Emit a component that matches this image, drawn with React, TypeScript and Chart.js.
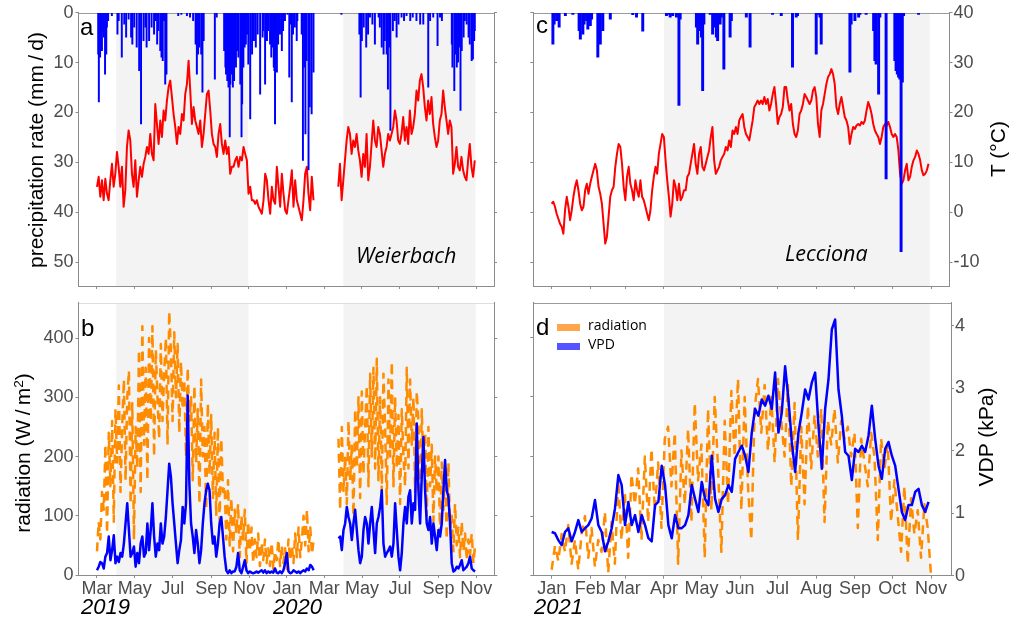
import React, { useEffect, useRef } from 'react';
import { Chart, registerables } from 'chart.js';

Chart.register(...registerables);

const SANS = '"Liberation Sans", Arial, sans-serif';
const OPEN = '"Open Sans", sans-serif';

// ---------------- DATA ----------------
// Weierbach: x in days since 1 Mar 2019
const wbMonthTicks = [0, 61, 122, 184, 245, 306, 366, 427, 488, 550, 611];
const wbMonthLabels = ['Mar', 'May', 'Jul', 'Sep', 'Nov', 'Jan', 'Mar', 'May', 'Jul', 'Sep', 'Nov'];
const wbGrowing = [[31, 244], [397, 610]];
const wbSpan1: [number, number] = [0, 349];
const wbSpan2: [number, number] = [389, 609];

// air temperature (°C)
const wbTemp1 = [5.1, 7.1, 3.1, 6.4, 2.4, 6.7, 3.7, 2.4, 6.4, 9.7,
  5.1, 7.7, 12.1, 9.1, 5.1, 9.1, 1.1, 4.4, 13.1, 16.4,
  14.4, 7.7, 5.1, 10.4, 3.1, 6.4, 9.1, 7.1, 9.7, 11.1,
  13.1, 11.7, 15.7, 11.7, 10.4, 21.7, 17.7, 13.7, 18.4, 15.1,
  20.4, 18.4, 22.4, 25.1, 26.4, 23.1, 19.7, 17.1, 13.7, 17.1,
  15.7, 19.7, 18.4, 23.7, 25.7, 30.4, 24.4, 17.7, 21.1, 18.4,
  17.1, 15.7, 18.4, 13.1, 15.7, 19.7, 23.7, 24.4, 20.4, 15.7,
  13.7, 13.1, 11.1, 15.7, 17.7, 13.7, 11.7, 14.4, 11.7, 13.1,
  7.7, 9.1, 9.1, 10.4, 11.1, 9.1, 11.1, 10.4, 13.1, 11.7,
  10.4, 3.7, 5.1, 2.4, 2.4, 1.7, 2.4, 1.1, 0.4, -0.3,
  2.4, 7.7, 6.4, 2.4, -0.3, 5.1, 2.4, 1.7, 9.1, 5.1,
  1.1, 7.7, 3.7, 0.4, -0.3, 2.4, 5.1, 8.4, 1.1, 6.4,
  2.4, 1.1, -0.3, -1.6, 2.4, 7.7, 9.1, 3.7, 0.4, 7.1,
  2.4];
const wbTemp2 = [5.1, 9.7, 2.4, 6.4, 10.4, 14.4, 17.1, 15.7, 11.7, 14.4,
  13.1, 15.7, 12.4, 10.4, 7.1, 11.7, 9.1, 15.7, 6.4, 9.1,
  13.7, 18.4, 14.4, 13.1, 17.1, 15.7, 12.4, 9.1, 11.7, 13.1,
  15.7, 14.4, 15.7, 17.1, 20.4, 18.4, 14.4, 13.7, 15.7, 19.1,
  14.4, 17.1, 13.7, 20.4, 15.7, 17.1, 19.7, 24.4, 22.4, 26.4,
  27.7, 25.1, 21.1, 18.4, 22.4, 19.7, 23.1, 17.7, 15.1, 13.1,
  14.4, 18.4, 19.7, 24.4, 21.1, 18.4, 15.7, 18.4, 17.1, 7.7,
  9.7, 13.1, 9.1, 8.4, 11.1, 8.4, 7.1, 6.4, 10.4, 13.7,
  9.1, 7.1, 10.4];

// daily precipitation (mm/d)
const wbRainDay = [2, 3, 5, 6, 8, 10, 11, 13, 15, 16, 18, 24, 33, 35, 40, 44, 47, 51, 55, 57, 60, 64, 68, 71, 75, 78, 80, 84, 88, 92, 95, 97, 99, 102, 104, 106, 108, 110, 112,
  131, 136, 145, 150, 155, 159, 161, 163, 165, 168, 170, 172, 190, 193, 205, 207, 208, 210, 212, 214, 215, 217, 219, 221, 222, 224, 226, 228, 231, 233, 234, 236, 238, 240, 242, 244, 247, 250, 253, 256, 259, 263, 267, 268, 271, 274, 276, 279, 281, 283, 285, 286, 287, 290, 292, 295, 298, 300, 303, 307, 310, 312, 314, 316, 319, 322, 323, 330, 332, 334, 336, 338, 341, 343, 346, 349,
  394, 423, 425, 427, 430, 434, 437, 440, 444, 448, 454, 456, 459, 462, 464, 467, 469, 471, 473, 477, 480, 483, 486, 491, 495, 499, 505, 509, 515, 521, 526, 534, 537, 542, 549, 553, 556, 572, 573, 576, 578, 580, 582, 584, 586, 588, 591, 593, 596, 599, 601, 604, 606, 608, 609];
const wbRainMm = [8.3, 17.9, 8.9, 5.6, 7.6, 3.6, 4.9, 12.3, 8.3, 2.9, 1.6, 0.6, 4.3, 1.6, 8.9, 2.3, 4.9, 1.3, 4.9, 6.3, 2.9, 6.9, 11.6, 22.3, 5.6, 2.9, 6.9, 5.6, 2.9, 4.3, 1.6, 6.3, 3.6, 7.6, 8.9, 9.6, 1.6, 14.3, 12.3,
  0.6, 0.3, 0.6, 0.9, 1.6, 6.3, 12.3, 8.3, 6.9, 8.3, 15.9, 5.6, 13.3, 0.9, 7.6, 10.9, 12.3, 13.6, 14.9, 24.9, 14.3, 12.3, 14.9, 13.6, 9.6, 10.9, 7.6, 8.9, 14.3, 24.9, 18.3, 10.9, 6.9, 6.3, 4.3, 10.3, 21.3, 8.3, 5.6, 6.9, 4.3, 16.3, 4.9, 3.6, 14.3, 5.6, 3.6, 6.3, 8.9, 6.9, 10.9, 11.6, 22.3, 11.9, 6.3, 4.3, 7.6, 3.6, 1.6, 0.3, 12.9, 2.3, 17.9, 4.3, 2.9, 5.6, 1.6, 4.3, 29.6, 10.9, 24.3, 9.6, 31.5, 18.9, 20.3, 11.9,
  0.3, 4.3, 16.9, 5.6, 2.9, 6.9, 4.3, 0.9, 2.3, 6.3, 0.9, 2.9, 6.9, 8.3, 5.6, 8.3, 15.3, 6.9, 23.6, 3.6, 1.6, 4.9, 2.3, 0.9, 1.6, 0.6, 1.6, 0.9, 1.6, 2.3, 2.3, 14.9, 1.6, 0.9, 6.6, 0.9, 1.6, 6.3, 10.9, 15.6, 8.3, 10.9, 9.9, 6.9, 19.6, 7.6, 4.9, 1.6, 2.3, 4.9, 6.3, 9.6, 9.3, 5.6, 3.6];

// radiation (W/m2)
const wbRad1 = [40, 90, 60, 140, 110, 220, 70, 240, 150, 260, 90, 280, 190, 320, 140, 250, 330, 160, 300, 345,
  120, 290, 60, 250, 180, 380, 140, 420, 220, 350, 160, 400, 260, 420, 200, 380, 300, 230, 390, 260,
  340, 400, 220, 445, 380, 260, 410, 300, 390, 240, 360, 280, 330, 200, 350, 260, 300, 160, 320, 190,
  280, 120, 330, 200, 250, 110, 290, 170, 270, 130, 240, 100, 250, 90, 230, 140, 150, 60, 160, 50,
  130, 40, 110, 70, 120, 30, 100, 60, 110, 20, 90, 40, 80, 20, 60, 30, 70, 15, 55, 25,
  60, 20, 45, 15, 55, 10, 40, 25, 60, 15, 50, 20, 45, 10, 60, 25, 50, 20, 70, 30,
  80, 30, 60, 100, 50, 110, 40, 80, 35, 60];
const wbRad2 = [230, 110, 250, 140, 200, 120, 260, 160, 220, 100, 280, 180, 300, 130, 310, 170, 250, 320, 150, 340,
  200, 350, 180, 365, 160, 300, 140, 340, 250, 120, 330, 200, 360, 150, 300, 180, 270, 120, 280, 200,
  150, 350, 180, 330, 220, 300, 140, 310, 260, 120, 280, 180, 240, 100, 250, 150, 220, 90, 200, 140,
  200, 70, 190, 110, 180, 60, 190, 80, 100, 40, 120, 50, 80, 30, 90, 40, 70, 25, 60, 35,
  70, 20, 50];

// vapour pressure deficit (kPa)
const wbVpd1 = [0.08, 0.14, 0.22, 0.2, 0.11, 0.31, 0.37, 0.65, 0.25, 0.42,
  0.67, 0.2, 0.31, 0.22, 0.37, 0.31, 0.53, 0.87, 1.21, 0.76,
  0.31, 0.37, 0.48, 0.14, 0.37, 0.2, 0.53, 0.65, 0.31, 0.37,
  0.87, 0.42, 0.76, 1.21, 0.65, 0.31, 0.53, 0.42, 0.87, 0.53,
  0.65, 0.98, 1.43, 1.88, 1.66, 1.21, 0.87, 0.53, 0.2, 0.42,
  0.59, 1.15, 0.87, 1.21, 3.03, 1.54, 0.87, 0.65, 0.37, 0.76,
  0.53, 0.2, 0.42, 0.87, 1.21, 1.43, 1.54, 1.43, 0.87, 0.53,
  0.65, 0.31, 0.53, 0.87, 0.98, 0.65, 0.31, 0.08, 0.03, 0.08,
  0.03, 0.06, 0.06, 0.14, 0.37, 0.08, 0.03, 0.14, 0.25, 0.08,
  0.03, 0.06, 0.04, 0.03, 0.04, 0.06, 0.04, 0.06, 0.08, 0.04,
  0.08, 0.03, 0.06, 0.04, 0.06, 0.04, 0.11, 0.04, 0.03, 0.06,
  0.03, 0.08, 0.2, 0.37, 0.06, 0.03, 0.04, 0.08, 0.06, 0.04,
  0.06, 0.03, 0.06, 0.08, 0.06, 0.11, 0.08, 0.17, 0.14, 0.08];
const wbVpd2 = [0.62, 0.65, 0.42, 0.76, 0.87, 1.15, 0.98, 0.87, 0.59, 0.87,
  1.1, 0.76, 0.42, 0.2, 0.31, 0.76, 0.98, 0.87, 0.53, 0.87,
  1.15, 0.76, 0.37, 0.87, 0.98, 1.15, 1.43, 0.53, 0.31, 0.37,
  0.42, 0.48, 0.31, 0.53, 1.21, 0.76, 0.31, 0.08, 0.37, 0.87,
  1.15, 0.87, 1.32, 1.43, 0.87, 1.21, 1.1, 2.56, 1.43, 0.87,
  1.66, 2.33, 1.43, 0.87, 0.76, 0.98, 0.53, 0.87, 0.65, 0.42,
  0.76, 0.65, 0.87, 1.43, 1.94, 1.43, 1.32, 0.87, 0.2, 0.06,
  0.08, 0.14, 0.11, 0.17, 0.25, 0.08, 0.11, 0.14, 0.2, 0.31,
  0.11, 0.08, 0.06];

// Lecciona: x in days since 1 Jan 2021
const lcMonthTicks = [0, 31, 59, 90, 120, 151, 181, 212, 243, 273, 304];
const lcMonthLabels = ['Jan', 'Feb', 'Mar', 'Apr', 'May', 'Jun', 'Jul', 'Aug', 'Sep', 'Oct', 'Nov'];
const lcGrowing = [[90, 303]];
const lcSpanT: [number, number] = [0, 302];
const lcSpanRad: [number, number] = [0, 304];
const lcSpanVpd: [number, number] = [0, 302];

const lcTemp = [1.7, 2.1, 1.1, -0.3, -1.3, -2.3, -2.9, -4.3, 0.4, 3.1,
  1.1, -1.6, 0.4, 3.1, 5.1, 6.4, 4.4, 1.7, 0.4, 1.1,
  4.4, 5.7, 3.7, 5.7, 7.1, 8.4, 9.7, 8.4, 5.1, 3.7,
  1.7, -2.3, -6.3, -4.9, -0.9, 3.1, 4.4, 5.1, 9.1, 11.7,
  13.7, 13.1, 9.7, 5.1, 2.4, 7.1, 9.1, 5.7, 4.4, 2.4,
  6.4, 4.4, 3.1, 6.4, 3.1, 2.4, 1.1, -0.3, -1.6, 0.4,
  4.4, 7.1, 9.1, 7.7, 11.7, 13.7, 15.7, 15.1, 10.4, 6.4,
  3.1, -0.9, 1.7, 6.4, 5.1, 2.4, 5.7, 2.4, 3.1, 4.4,
  4.4, 7.1, 7.7, 9.7, 11.7, 13.7, 9.7, 7.7, 11.7, 13.1,
  9.1, 8.4, 9.7, 11.1, 12.4, 15.1, 17.1, 10.4, 7.7, 8.4,
  9.1, 10.4, 11.1, 11.7, 13.1, 12.4, 14.4, 13.1, 16.4, 15.7,
  17.1, 15.7, 18.4, 19.1, 19.7, 17.1, 15.7, 15.1, 14.4, 16.4,
  18.4, 21.1, 21.7, 22.4, 21.7, 22.4, 21.7, 23.1, 21.7, 22.7,
  20.4, 21.7, 23.7, 25.1, 21.7, 17.7, 19.1, 19.7, 21.1, 25.1,
  25.1, 22.4, 20.4, 21.7, 17.7, 15.7, 15.1, 16.4, 19.7, 20.4,
  21.7, 23.7, 23.1, 22.4, 21.7, 22.4, 24.4, 25.1, 23.1, 17.7,
  15.1, 20.4, 21.7, 23.7, 25.7, 27.1, 27.7, 28.7, 27.7, 25.7,
  21.1, 19.7, 21.7, 23.1, 21.1, 19.1, 18.4, 17.1, 13.7, 15.7,
  17.1, 16.7, 17.4, 17.7, 17.4, 18.1, 17.7, 18.4, 20.4, 22.1,
  21.1, 19.7, 17.7, 16.4, 15.7, 15.1, 13.7, 15.1, 17.1, 17.7,
  17.4, 18.1, 17.1, 15.7, 15.1, 15.7, 15.1, 12.4, 7.7, 5.7,
  6.4, 8.4, 9.7, 6.4, 7.1, 9.1, 10.4, 11.1, 12.4, 11.7,
  10.4, 8.4, 7.4, 7.7, 8.4, 9.7];

const lcRainDay = [1, 2, 4, 6, 11, 17, 22, 23, 25, 26, 28, 29, 31, 32, 37, 38, 39, 41, 47, 65, 68, 73, 92, 93, 95, 97, 100, 102, 103,
  116, 117, 119, 120, 121, 122, 127, 129, 131, 132, 133, 135, 136, 138, 143, 144, 156, 159, 177, 184, 193, 196, 197,
  212, 214, 215, 216, 239, 240, 243, 246, 247, 252, 258, 259, 260, 262, 263, 268, 275, 276, 277, 278, 279, 280, 281, 282, 294];
const lcRainMm = [6.3, 2.3, 1.6, 2.9, 0.6, 0.3, 3.6, 5.3, 4.3, 2.3, 1.6, 3.3, 2.6, 1.3, 8.9, 5.6, 6.3, 3.6, 1.3, 0.4, 0.9, 3.7, 0.6, 0.3, 0.9, 0.6, 0.9, 18.6, 1.3,
  2.9, 6.3, 3.6, 4.9, 15.6, 2.3, 0.3, 4.3, 2.9, 4.9, 5.6, 2.3, 0.9, 11.3, 4.9, 1.6, 0.9, 6.9, 0.3, 0.6, 10.9, 0.9, 0.6,
  8.3, 0.3, 0.9, 6.3, 11.9, 2.3, 1.6, 0.9, 0.3, 0.3, 3.6, 9.6, 10.3, 16.3, 0.9, 33.3, 9.6, 11.6, 12.3, 12.9, 13.3, 47.9, 13.9, 0.6, 0.3];

const lcRad = [10, 50, 25, 70, 40, 85, 20, 60, 10, 70, 100, 30, 80, 15, 60, 40, 107, 5, 90, 20,
  160, 60, 140, 30, 170, 120, 180, 60, 200, 90, 213, 110, 190, 80, 230, 250, 150, 240, 20, 210,
  120, 246, 90, 290, 160, 220, 30, 280, 110, 300, 180, 40, 260, 120, 310, 200, 330, 110, 300, 150,
  60, 280, 330, 240, 320, 210, 300, 190, 330, 260, 200, 320, 150, 290, 60, 250, 120, 285, 180, 270,
  200, 280, 90, 260, 220, 280, 190, 260, 230, 250, 200, 240, 80, 230, 190, 150, 240, 200, 60, 230,
  180, 220, 90, 160, 100, 40, 150, 20, 130, 70, 110, 30, 120, 80, 0];

const lcVpd = [0.70, 0.68, 0.57, 0.49, 0.70, 0.76, 0.55, 0.70, 0.89, 0.70,
  0.76, 0.81, 0.92, 1.21, 0.81, 0.70, 0.39, 0.55, 0.76, 1.08,
  1.61, 1.45, 0.81, 1.18, 0.81, 0.97, 0.70, 0.97, 0.81, 0.60,
  0.55, 1.13, 1.18, 1.76, 1.45, 0.81, 0.60, 0.97, 0.76, 0.76,
  0.81, 0.97, 1.45, 1.23, 1.02, 1.50, 1.23, 1.13, 1.92, 1.23,
  1.02, 1.23, 1.29, 1.45, 1.34, 1.87, 1.98, 2.08, 1.92, 1.66,
  2.29, 2.67, 2.56, 2.82, 2.72, 2.88, 2.67, 3.25, 2.29, 2.61,
  3.35, 2.82, 2.14, 1.66, 2.29, 2.61, 2.98, 2.82, 3.09, 3.25,
  2.40, 1.71, 2.67, 3.14, 3.94, 4.10, 2.98, 2.56, 1.98, 1.92,
  1.53, 2.03, 1.98, 2.08, 1.98, 2.24, 2.72, 2.19, 1.76, 1.55,
  2.03, 2.14, 1.92, 1.76, 1.39, 1.02, 0.89, 1.13, 1.13, 1.34,
  1.39, 1.13, 1.02, 1.18];

// axis tick values
const rainTicks = [0, 10, 20, 30, 40, 50];
const tempTicks = [-10, 0, 10, 20, 30, 40];
const radTicks = [0, 100, 200, 300, 400];
const vpdTicks = [0, 1, 2, 3, 4];

// ---------------- helpers ----------------
const AXIS_GRAY = '#8c8c8c';
const TICK_COLOR = '#4d4d4d';
const SHADE = '#f3f3f3';

const toPoints = (vals: number[], span: [number, number]) =>
  vals.map((y, i) => ({ x: span[0] + (i * (span[1] - span[0])) / (vals.length - 1), y }));
const toBars = (days: number[], mm: number[]) => days.map((d, i) => ({ x: d, y: mm[i] }));

const decorPlugin = {
  id: 'decor',
  beforeDraw(chart: any, _a: any, opts: any) {
    const { ctx, chartArea: a, scales } = chart;
    const x = scales.x;
    ctx.save();
    ctx.fillStyle = SHADE;
    for (const [s, e] of opts.ranges) {
      const x0 = x.getPixelForValue(s);
      const x1 = x.getPixelForValue(e);
      ctx.fillRect(x0, a.top, x1 - x0, a.bottom - a.top);
    }
    ctx.strokeStyle = opts.topColor;
    ctx.lineWidth = 1;
    ctx.beginPath();
    ctx.moveTo(a.left, Math.round(a.top) + 0.5);
    ctx.lineTo(a.right, Math.round(a.top) + 0.5);
    ctx.stroke();
    ctx.restore();
  },
};

function yAxis(position: string, min: number, max: number, ticks: number[], labels: boolean, width: number, reverse = false) {
  return {
    type: 'linear', position, min, max, reverse,
    afterBuildTicks: (s: any) => { s.ticks = ticks.map((v) => ({ value: v })); },
    afterFit: (s: any) => { s.width = width; },
    grid: { drawOnChartArea: false, drawTicks: true, tickLength: 3, color: AXIS_GRAY },
    border: { display: true, color: AXIS_GRAY },
    ticks: {
      autoSkip: false, padding: position === 'left' ? 2 : 1, color: TICK_COLOR,
      font: { family: SANS, size: 18 },
      callback: (v: number) => (labels ? String(v) : ''),
    },
  };
}

function xAxis(min: number, max: number, ticks: number[], labels: string[] | null, height: number) {
  return {
    type: 'linear', position: 'bottom', min, max, offset: false,
    afterBuildTicks: (s: any) => { s.ticks = ticks.map((v) => ({ value: v })); },
    afterFit: (s: any) => { s.height = height; },
    grid: { drawOnChartArea: false, drawTicks: true, tickLength: 3, color: AXIS_GRAY, offset: false },
    border: { display: true, color: AXIS_GRAY },
    ticks: {
      autoSkip: false, maxRotation: 0, minRotation: 0, padding: 0, color: TICK_COLOR,
      font: { family: SANS, size: 18 },
      callback: (_v: number, i: number) => (labels ? labels[i] : ''),
    },
  };
}

function baseOptions(padTop: number, ranges: number[][], topColor: string, scales: any) {
  return {
    responsive: false,
    animation: false,
    devicePixelRatio: 1,
    layout: { padding: { top: padTop, left: 0, right: 0, bottom: 0 } },
    elements: { point: { radius: 0 }, line: { tension: 0, borderJoinStyle: 'round' } },
    plugins: { legend: { display: false }, tooltip: { enabled: false }, decor: { ranges, topColor } },
    scales,
  };
}

const configA = () => ({
  type: 'line',
  data: {
    datasets: [
      { type: 'bar', data: toBars(wbRainDay, wbRainMm), backgroundColor: '#0000ff', barThickness: 1.3, grouped: false, yAxisID: 'yP', order: 0 },
      { data: toPoints(wbTemp1, wbSpan1), borderColor: '#ff0000', borderWidth: 2, fill: false, yAxisID: 'yT', order: 1 },
      { data: toPoints(wbTemp2, wbSpan2), borderColor: '#ff0000', borderWidth: 2, fill: false, yAxisID: 'yT', order: 1 },
    ],
  },
  options: baseOptions(12, wbGrowing, '#9a9a9a', {
    x: xAxis(-29.8, 640, wbMonthTicks, null, 14),
    yP: yAxis('left', 0, 54.8, rainTicks, true, 78.5, true),
    yT: yAxis('right', -14.8, 40, tempTicks, false, 16),
  }),
  plugins: [decorPlugin],
});

const configB = () => ({
  type: 'line',
  data: {
    datasets: [
      { data: toPoints(wbVpd1, wbSpan1), borderColor: '#0000ff', borderWidth: 2.5, fill: false, yAxisID: 'yV', order: 0 },
      { data: toPoints(wbVpd2, wbSpan2), borderColor: '#0000ff', borderWidth: 2.5, fill: false, yAxisID: 'yV', order: 0 },
      { data: toPoints(wbRad1, wbSpan1), borderColor: '#ff8c00', borderWidth: 2.5, borderDash: [9, 6], fill: false, yAxisID: 'yR', order: 1 },
      { data: toPoints(wbRad2, wbSpan2), borderColor: '#ff8c00', borderWidth: 2.5, borderDash: [9, 6], fill: false, yAxisID: 'yR', order: 1 },
    ],
  },
  options: baseOptions(12, wbGrowing, '#dedede', {
    x: xAxis(-29.8, 640, wbMonthTicks, wbMonthLabels, 45),
    yR: yAxis('left', 0, 459.6, radTicks, true, 78.5),
    yV: yAxis('right', 0, 4.596, vpdTicks, false, 15.7),
  }),
  plugins: [decorPlugin],
});

const configC = () => ({
  type: 'line',
  data: {
    datasets: [
      { type: 'bar', data: toBars(lcRainDay, lcRainMm), backgroundColor: '#0000ff', barThickness: 2.3, grouped: false, yAxisID: 'yP', order: 0 },
      { data: toPoints(lcTemp, lcSpanT), borderColor: '#ff0000', borderWidth: 2, fill: false, yAxisID: 'yT', order: 1 },
    ],
  },
  options: baseOptions(12, lcGrowing, '#9a9a9a', {
    x: xAxis(-14.7, 318.8, lcMonthTicks, null, 14),
    yP: yAxis('left', 0, 54.8, rainTicks, false, 23.3, true),
    yT: yAxis('right', -14.8, 40, tempTicks, true, 68.5),
  }),
  plugins: [decorPlugin],
});

const configD = () => ({
  type: 'line',
  data: {
    datasets: [
      { data: toPoints(lcVpd, lcSpanVpd), borderColor: '#0000ff', borderWidth: 2.5, fill: false, yAxisID: 'yV', order: 0 },
      { data: toPoints(lcRad, lcSpanRad), borderColor: '#ff8c00', borderWidth: 2.5, borderDash: [9, 6], fill: false, yAxisID: 'yR', order: 1 },
    ],
  },
  options: baseOptions(11, lcGrowing, '#9a9a9a', {
    x: xAxis(-14.7, 320, lcMonthTicks, lcMonthLabels, 44.3),
    yR: yAxis('left', 0, 458, radTicks, false, 23.3),
    yV: yAxis('right', 0, 4.367, vpdTicks, true, 67),
  }),
  plugins: [decorPlugin],
});

function Panel({ left, top, width, height, make }: any) {
  const ref = useRef<HTMLCanvasElement>(null);
  useEffect(() => {
    const chart = new Chart(ref.current as HTMLCanvasElement, make() as any);
    return () => chart.destroy();
  }, []);
  return <canvas ref={ref} width={width} height={height} style={{ position: 'absolute', left, top, width, height }} />;
}

// text placed by baseline: Liberation Sans baseline ≈ 0.8465em below top with line-height 1
function Txt({ x, base, size, family = SANS, italic = false, asc = 0.8465, children, color = '#000' }: any) {
  return (
    <div style={{ position: 'absolute', left: x, top: base - asc * size, fontSize: size, lineHeight: `${size}px`, fontFamily: family, fontStyle: italic ? 'italic' : 'normal', whiteSpace: 'nowrap', color }}>
      {children}
    </div>
  );
}

function VTxt({ cx, cy, size, children }: any) {
  return (
    <div style={{ position: 'absolute', left: cx, top: cy, transform: 'translate(-50%, -50%) rotate(-90deg)', fontSize: size, lineHeight: `${size}px`, fontFamily: SANS, whiteSpace: 'nowrap', color: '#000' }}>
      {children}
    </div>
  );
}

export default function App() {
  return (
    <div style={{ position: 'absolute', left: 0, top: 0, width: 1018, height: 620, background: '#fff', overflow: 'hidden' }}>
      <Panel left={0} top={0} width={510} height={300} make={configA} />
      <Panel left={0} top={290} width={510} height={330} make={configB} />
      <Panel left={510} top={0} width={508} height={300} make={configC} />
      <Panel left={510} top={290} width={508} height={330} make={configD} />

      <VTxt cx={35} cy={150} size={21}>precipitation rate (mm{'\u2009/\u2009'}d)</VTxt>
      <VTxt cx={23.5} cy={453} size={21}>
        radiation (W{'\u2009/\u2009'}m<span style={{ fontSize: '0.65em', position: 'relative', top: '-0.5em' }}>2</span>)
      </VTxt>
      <VTxt cx={997} cy={148.5} size={21}>T (°C)</VTxt>
      <VTxt cx={985} cy={437} size={21}>VDP (kPa)</VTxt>

      <Txt x={80} base={35} size={24}>a</Txt>
      <Txt x={81} base={336.5} size={24}>b</Txt>
      <Txt x={536} base={33.7} size={24}>c</Txt>
      <Txt x={536} base={335} size={24}>d</Txt>

      <Txt x={81} base={615} size={22} italic>2019</Txt>
      <Txt x={273} base={615} size={22} italic>2020</Txt>
      <Txt x={534} base={615} size={22} italic>2021</Txt>

      <Txt x={356} base={263.5} size={21.5} family={OPEN} asc={0.888} italic>Weierbach</Txt>
      <Txt x={785} base={261} size={21.5} family={OPEN} asc={0.888} italic>Lecciona</Txt>

      <div style={{ position: 'absolute', left: 557, top: 323.5, width: 23, height: 7, background: '#ffa64d' }} />
      <div style={{ position: 'absolute', left: 557, top: 343, width: 23, height: 7, background: '#5555ff' }} />
      <Txt x={588} base={330} size={14} family={OPEN} asc={0.888}>radiation</Txt>
      <Txt x={588} base={349.3} size={14} family={OPEN} asc={0.888}>VPD</Txt>
    </div>
  );
}
